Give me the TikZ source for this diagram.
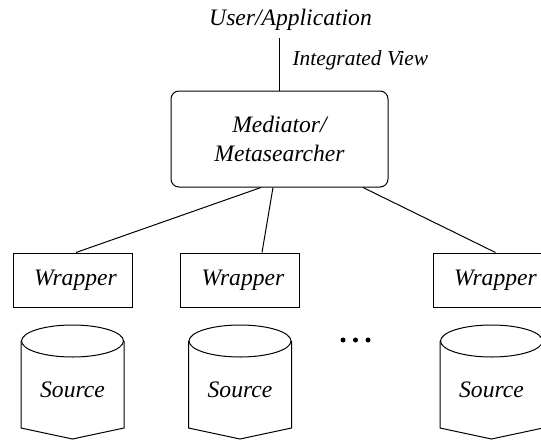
\documentclass[tikz,border=0pt]{standalone}
\usepackage{fontspec}
\setmainfont{Liberation Serif}
\usepackage{tikz}
\usetikzlibrary{positioning}

\begin{document}
\begin{tikzpicture}[x=0.5pt,y=-0.5pt,line width=0.5pt,
  txt/.style={font=\itshape\fontsize{11.8}{14.5}\selectfont,inner sep=0pt},
  wrapbox/.style={draw,rectangle,minimum width=59.5pt,minimum height=27pt,inner sep=0pt,
    font=\itshape\fontsize{11.8}{14.5}\selectfont},
  medbox/.style={draw,rectangle,rounded corners=4pt,minimum width=108.5pt,minimum height=48pt,
    align=center,font=\itshape\fontsize{11.8}{14.5}\selectfont}]
\clip (0,0) rectangle (541,440);

% top
\node[txt,anchor=base] (user) at (290.5,25) {User/Application};
\coordinate (usr) at (279.5,38);
\node[medbox] (med) at (279.5,139) {Mediator/\\Metasearcher};
\draw (usr) -- (med.north);
\node[txt,anchor=base west,font=\itshape\fontsize{10.7}{12}\selectfont] (view) at (292,65) {Integrated View};

% wrappers
\node[wrapbox] (w1) at (72.5,280) {\hspace{3pt}Wrapper};
\node[wrapbox] (w2) at (240,280) {\hspace{3pt}Wrapper};
\node[wrapbox] (w3) at (492.5,280) {\hspace{3pt}Wrapper};
\draw ([xshift=-9.25pt]med.south) -- ([xshift=1.75pt]w1.north);
\draw ([xshift=-3.25pt]med.south) -- ([xshift=11pt]w2.north);
\draw ([xshift=41.75pt]med.south) -- ([xshift=1.5pt]w3.north);

% sources
\draw (72.5,341) ellipse [x radius=51,y radius=16];
\draw (21,341) -- (21,428) -- (72.5,439) -- (124,428) -- (124,341);
\node[txt] (s1) at (72.5,390) {Source};

\draw (240,341) ellipse [x radius=51,y radius=16];
\draw (188.5,341) -- (188.5,428) -- (240,439) -- (291.5,428) -- (291.5,341);
\node[txt] (s2) at (240,390) {Source};

\draw (491.5,341) ellipse [x radius=51,y radius=16];
\draw (440,341) -- (440,428) -- (491.5,439) -- (543,428) -- (543,341);
\node[txt] (s3) at (491.5,390) {Source};

% dots
\fill (343,340) circle[radius=2.5];
\fill (355.5,340) circle[radius=2.5];
\fill (368,340) circle[radius=2.5];
\end{tikzpicture}
\end{document}
